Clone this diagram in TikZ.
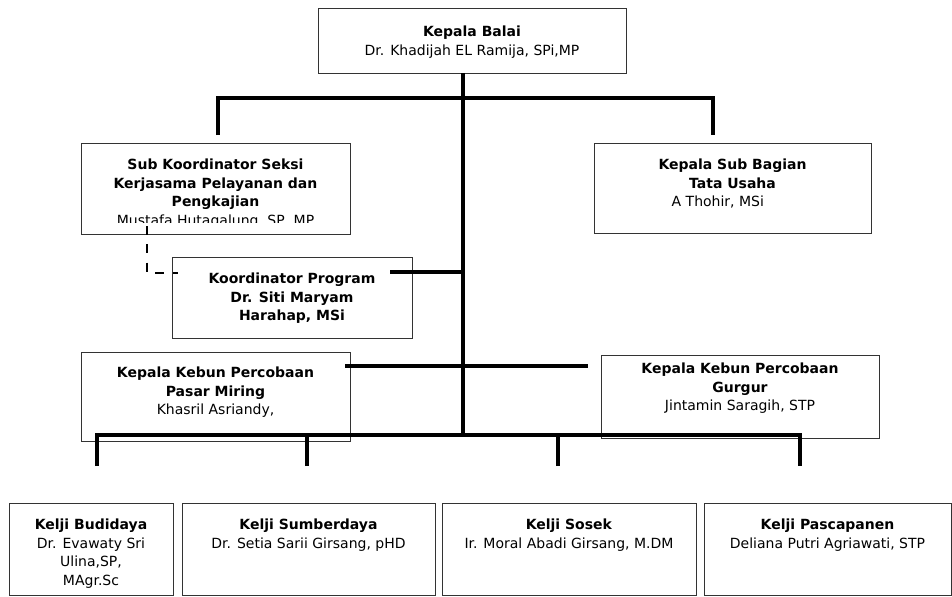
\documentclass[tikz,border=0pt]{standalone}
\usepackage{fontspec}
\setmainfont{DejaVu Sans}
\begin{document}
\begin{tikzpicture}[x=0.75pt, y=-0.75pt,
    every node/.style={font=\fontsize{10.5pt}{13.9pt}\selectfont},
    box/.style 2 args={draw=black!80, line width=0.9pt, anchor=north west, inner sep=0pt,
        minimum width=#1*0.75pt, minimum height=#2*0.75pt},
    txt/.style={anchor=north, align=center, inner sep=0pt},
    link/.style={line width=3pt},
    dashlink/.style={line width=2.2pt, dash pattern=on 6.75pt off 7pt}]
    \useasboundingbox (0,0) rectangle (952,596);
    % boxes
    \node [box={308}{65}] (balai) at (318,8) {};
    \node [box={269}{91}] (subkoor) at (81,143) {};
    \node [box={277}{90}] (subbag) at (594,143) {};
    \node [box={240}{81}] (koord) at (172,257) {};
    \node [box={269}{89}] (pasar) at (81,352) {};
    \node [box={278}{83}] (gurgur) at (601,355) {};
    \node [box={164}{92}] (budi) at (9,503) {};
    \node [box={253}{92}] (sumber) at (182,503) {};
    \node [box={254}{92}] (sosek) at (442,503) {};
    \node [box={247}{92}] (pasca) at (704,503) {};
    % texts
    \node [txt] (balaitxt) at (472,26) {\textbf{Kepala Balai}\\Dr. Khadijah EL Ramija, SPi,MP};
    \begin{scope}
        \clip (81,143) rectangle (350,222);
        \node [txt] (subkoortxt) at (215.5,159) {\textbf{Sub Koordinator Seksi}\\\textbf{Kerjasama Pelayanan dan}\\\textbf{Pengkajian}\\Mustafa Hutagalung, SP, MP};
    \end{scope}
    \node [txt] (subbagtxt) at (732.5,159) {\textbf{Kepala Sub Bagian}\\\textbf{Tata Usaha}\\A Thohir, MSi\hspace*{22pt}};
    \node [txt] (koordtxt) at (292,273) {\textbf{Koordinator Program}\\\textbf{Dr. Siti Maryam}\\\textbf{Harahap, MSi}};
    \node [txt] (pasartxt) at (215.5,367) {\textbf{Kepala Kebun Percobaan}\\\textbf{Pasar Miring}\\Khasril Asriandy,};
    \node [txt] (gurgurtxt) at (740,363) {\textbf{Kepala Kebun Percobaan}\\\textbf{Gurgur}\\Jintamin Saragih, STP};
    \node [txt] (buditxt) at (91,519) {\textbf{Kelji Budidaya}\\Dr. Evawaty Sri\\Ulina,SP,\\MAgr.Sc};
    \node [txt] (sumbertxt) at (308.5,519) {\textbf{Kelji Sumberdaya}\\Dr. Setia Sarii Girsang, pHD};
    \node [txt] (sosektxt) at (569,519) {\textbf{Kelji Sosek}\\Ir. Moral Abadi Girsang, M.DM};
    \node [txt] (pascatxt) at (827.5,519) {\textbf{Kelji Pascapanen}\\Deliana Putri Agriawati, STP};
    % lines
    \coordinate (spinetop) at (463,73);
    \coordinate (spinebot) at (463,435);
    \coordinate (busL) at (218,98);
    \coordinate (busR) at (713,98);
    \coordinate (kpend) at (390,272);
    \coordinate (midL) at (345,366);
    \coordinate (midR) at (588,366);
    \coordinate (d1) at (97,466);
    \coordinate (d2) at (307,466);
    \coordinate (d3) at (558,466);
    \coordinate (d4) at (800,466);
    \coordinate (ds) at (147,226);
    \coordinate (de) at (178,273);
    \draw [link] (spinetop) -- (spinebot);
    \draw [link, shorten <=6pt, shorten >=6pt] (busL |- subkoor.north) -- (busL) -- (busR) -- (busR |- subbag.north);
    \draw [link] (kpend) -- (kpend -| spinetop);
    \draw [link] (midL) -- (midR);
    \draw [link] (d1) |- (spinebot) -| (d4);
    \foreach \d in {d2,d3}
        \draw [link] (\d) -- (\d |- spinebot);
    \draw [dashlink] (ds) |- (de);
\end{tikzpicture}
\end{document}
